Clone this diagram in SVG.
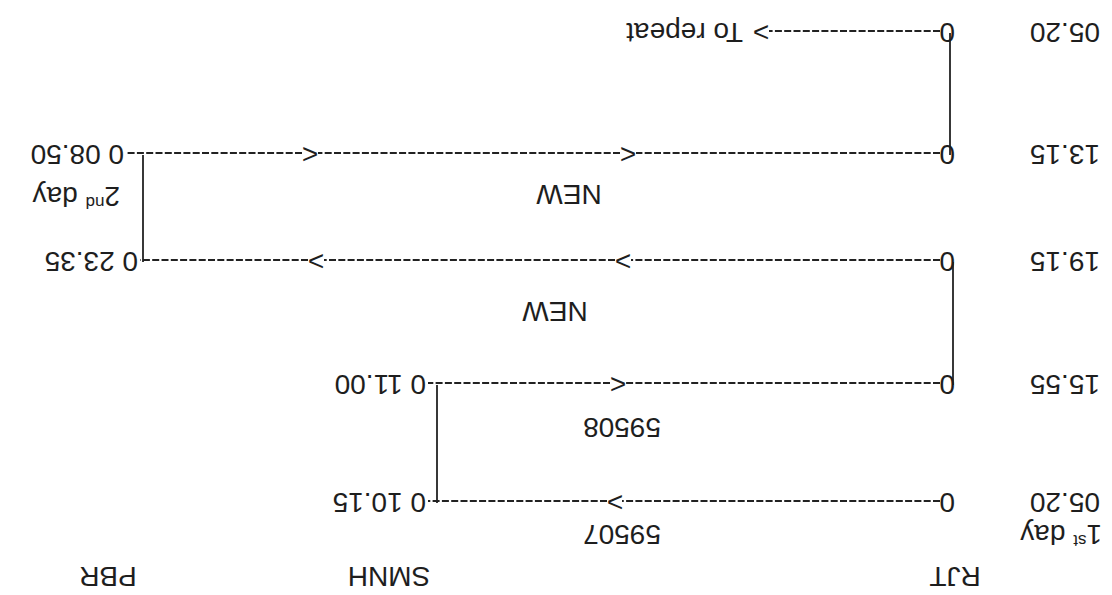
<svg xmlns="http://www.w3.org/2000/svg" width="1112" height="595" viewBox="0 0 1112 595">
<style>
text{font-family:"Liberation Sans",Arial,sans-serif;font-size:28px;fill:#1e1e1e}
.mid{text-anchor:middle}
.sup{font-size:17px}
.dash{stroke:#222;stroke-width:2;stroke-dasharray:7 2.3;fill:none}
.solid{stroke:#222;stroke-width:1.8;fill:none}
</style>
<rect width="1112" height="595" fill="#fff"/>
<g transform="rotate(180 556 297.5)">
  <g id="headers">
    <text x="157" y="28" class="mid">RJT</text>
    <text x="723" y="28" class="mid">SMNH</text>
    <text x="1004" y="28" class="mid">PBR</text>
  </g>
  <g id="connectors">
    <path class="dash" d="M172 94H490M505 94H684"/>
    <path class="dash" d="M172 212H486M502 212H684"/>
    <path class="dash" d="M172 335H481M497 335H788M804 335H972"/>
    <path class="dash" d="M172 442H476M492 442H794M810 442H986"/>
    <path class="dash" d="M172 564H343"/>
    <path class="solid" d="M675 92V210"/>
    <path class="solid" d="M159 210V333"/>
    <path class="solid" d="M969 333V440"/>
    <path class="solid" d="M162 440V562"/>
    <text x="497" y="102" class="mid">&gt;</text>
    <text x="494" y="220" class="mid">&lt;</text>
    <text x="489" y="343" class="mid">&gt;</text>
    <text x="796" y="343" class="mid">&gt;</text>
    <text x="484" y="450" class="mid">&lt;</text>
    <text x="802" y="450" class="mid">&lt;</text>
    <text x="351" y="572" class="mid">&gt;</text>
  </g>
  <g id="day1">
    <text x="10" y="70">1<tspan class="sup" dy="-10">st</tspan><tspan dy="10"> day</tspan></text>
  </g>
  <g id="row-e">
    <text x="12" y="102">05.20</text>
    <text x="157" y="102">0</text>
    <text x="686" y="102">0 10.15</text>
    <text x="490" y="70" class="mid">59507</text>
  </g>
  <g id="row-d">
    <text x="12" y="220">15.55</text>
    <text x="157" y="220">0</text>
    <text x="686" y="220">0 11.00</text>
    <text x="490" y="177" class="mid">59508</text>
  </g>
  <g id="row-c">
    <text x="12" y="343">19.15</text>
    <text x="157" y="343">0</text>
    <text x="974" y="343">0 23.35</text>
    <text x="557" y="293" class="mid">NEW</text>
  </g>
  <g id="row-b">
    <text x="12" y="450">13.15</text>
    <text x="157" y="450">0</text>
    <text x="988" y="450">0 08.50</text>
    <text x="543" y="410" class="mid">NEW</text>
    <text x="992" y="408">2<tspan class="sup" dy="-10">nd</tspan><tspan dy="10"> day</tspan></text>
  </g>
  <g id="row-a">
    <text x="12" y="572">05.20</text>
    <text x="157" y="572">0</text>
    <text x="369" y="572">To repeat</text>
  </g>
</g>
</svg>
